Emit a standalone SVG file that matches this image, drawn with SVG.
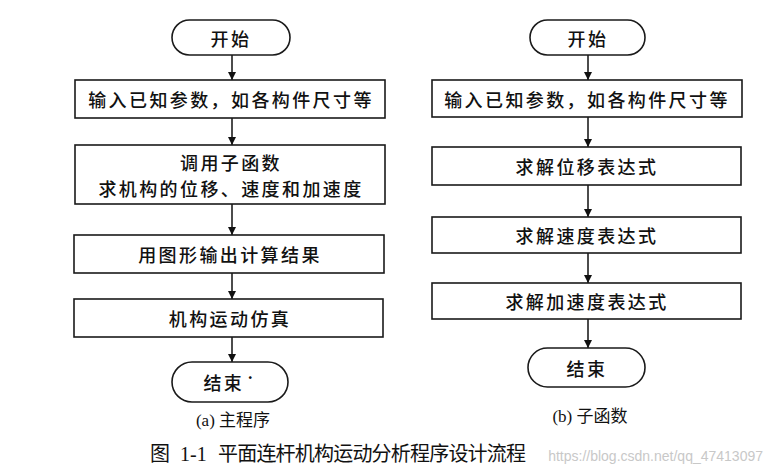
<svg xmlns="http://www.w3.org/2000/svg" width="772" height="475" viewBox="0 0 772 475">
<defs>
<marker id="ah" viewBox="0 0 10 10" refX="10" refY="5" markerWidth="8" markerHeight="8" markerUnits="userSpaceOnUse" orient="auto">
<path d="M0,0 L10,5 L0,10 z" fill="#111"/>
</marker>
</defs>
<style>
.box{fill:#fff;stroke:#1a1a1a;stroke-width:1.6}
.t{font-family:"Noto Sans CJK SC","Liberation Sans",sans-serif;font-size:18px;font-weight:500;fill:#111;text-anchor:middle;dominant-baseline:central;letter-spacing:2.4px}
.sub{font-family:"Liberation Serif","Noto Sans CJK SC",serif;font-size:17px;fill:#111;text-anchor:middle}
.cap{font-family:"Noto Sans CJK SC","Liberation Serif",serif;font-size:20px;fill:#111}
.wm{font-family:"Liberation Sans",sans-serif;font-size:14px;fill:#c8c8c8;text-anchor:end}
.c{stroke:#111;stroke-width:1.5;fill:none;marker-end:url(#ah)}
</style>
<rect width="772" height="475" fill="#fff"/>
<text class="wm" x="763" y="461">https://blog.csdn.net/qq_47413097</text>
<g id="connectors">
<line class="c" x1="232" y1="55" x2="232" y2="80"/>
<line class="c" x1="232" y1="118" x2="232" y2="145"/>
<line class="c" x1="232" y1="204" x2="232" y2="235"/>
<line class="c" x1="232" y1="273" x2="232" y2="299"/>
<line class="c" x1="232" y1="337" x2="232" y2="362"/>
<line class="c" x1="588" y1="55" x2="588" y2="80"/>
<line class="c" x1="588" y1="117" x2="588" y2="147"/>
<line class="c" x1="588" y1="185" x2="588" y2="217"/>
<line class="c" x1="588" y1="253" x2="588" y2="283"/>
<line class="c" x1="588" y1="319" x2="588" y2="348"/>
</g>
<g id="a-start"><rect class="box" x="172" y="20" width="118" height="35" rx="17.5"/><text class="t" x="231" y="37.5">开始</text></g>
<g id="a-input"><rect class="box" x="75" y="80" width="310" height="38"/><text class="t" x="231" y="99">输入已知参数，如各构件尺寸等</text></g>
<g id="a-call"><rect class="box" x="75" y="145" width="310" height="59"/><text class="t" x="231" y="162">调用子函数</text><text class="t" x="231" y="188">求机构的位移、速度和加速度</text></g>
<g id="a-plot"><rect class="box" x="74" y="235" width="310" height="38"/><text class="t" x="230" y="254">用图形输出计算结果</text></g>
<g id="a-sim"><rect class="box" x="74" y="299" width="309" height="38"/><text class="t" x="230" y="318">机构运动仿真</text></g>
<g id="a-end"><rect class="box" x="172" y="362" width="116" height="40" rx="20"/><text class="t" x="231" y="382">结束<tspan dy="-5" font-size="12">·</tspan></text></g>
<text class="sub" x="233" y="426">(a) 主程序</text>
<g id="b-start"><rect class="box" x="530" y="20" width="115" height="35" rx="17.5"/><text class="t" x="588" y="37.5">开始</text></g>
<g id="b-input"><rect class="box" x="432" y="80" width="310" height="37"/><text class="t" x="587" y="98.5">输入已知参数，如各构件尺寸等</text></g>
<g id="b-disp"><rect class="box" x="432" y="147" width="309" height="38"/><text class="t" x="587" y="166">求解位移表达式</text></g>
<g id="b-vel"><rect class="box" x="432" y="217" width="309" height="36"/><text class="t" x="587" y="235">求解速度表达式</text></g>
<g id="b-acc"><rect class="box" x="432" y="283" width="309" height="36"/><text class="t" x="587" y="301">求解加速度表达式</text></g>
<g id="b-end"><rect class="box" x="528" y="348" width="117" height="39" rx="19.5"/><text class="t" x="587" y="367.5">结束</text></g>
<text class="sub" x="590" y="422">(b) 子函数</text>
<text class="cap" y="461"><tspan x="150">图</tspan><tspan x="180" font-family="Liberation Serif, serif" font-size="20">1-1</tspan><tspan x="218" textLength="308" lengthAdjust="spacing">平面连杆机构运动分析程序设计流程</tspan></text>
</svg>
